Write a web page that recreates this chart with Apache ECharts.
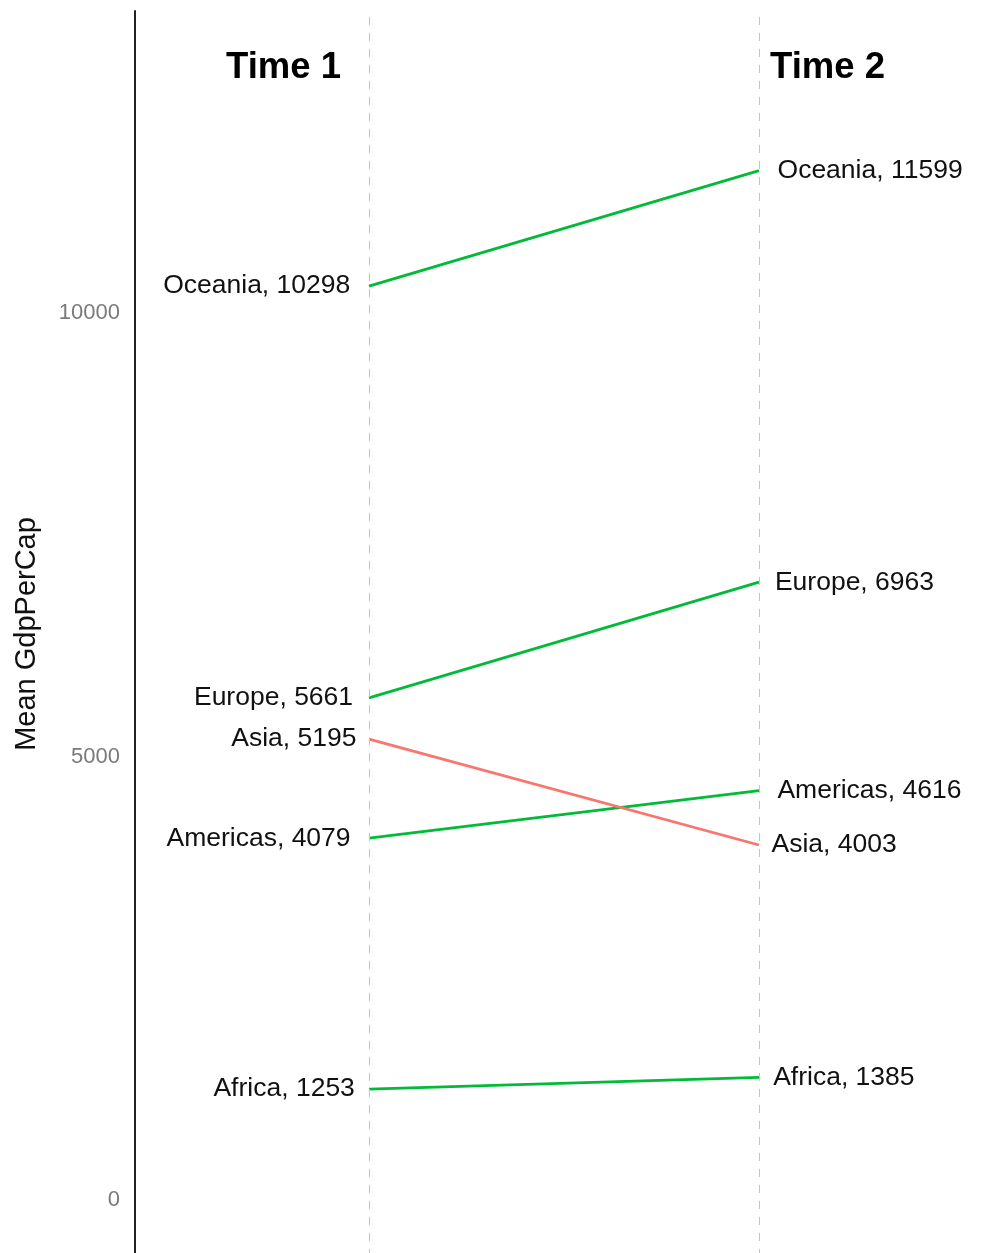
<!DOCTYPE html>
<html>
<head>
<meta charset="utf-8">
<script src="https://cdn.jsdelivr.net/npm/echarts@6/dist/echarts.min.js"></script>
<style>
html,body{margin:0;padding:0;background:#fff;}
#chart{width:984px;height:1253px;}
</style>
</head>
<body>
<div id="chart"></div>
<script>
const continents = ['Africa', 'Americas', 'Asia', 'Europe', 'Oceania'];
const time1Values = [1253, 4079, 5195, 5661, 10298];
const time2Values = [1385, 4616, 4003, 6963, 11599];
const timeLabels = ['Time 1', 'Time 2'];
const timeLabelValue = 12759;
const yTickValues = [0, 5000, 10000];
const yAxisTitle = 'Mean GdpPerCap';

const FONT = '"Liberation Sans", Arial, Helvetica, sans-serif';
const LABEL_SIZE = 26.5;
const ctx = document.createElement('canvas').getContext('2d');
ctx.font = LABEL_SIZE + 'px ' + FONT;
function w(t){ return ctx.measureText(t).width; }

const UP = '#00BA38', DOWN = '#F8766D';
const labelBase = { show: true, fontFamily: FONT, fontSize: LABEL_SIZE, color: '#111' };

const series = continents.map((c, i) => {
  const a = time1Values[i], b = time2Values[i];
  const la = c + ', ' + a, lb = c + ', ' + b;
  const col = b >= a ? UP : DOWN;
  return {
    type: 'line',
    name: c,
    symbol: 'circle',
    symbolSize: 0,
    showSymbol: true,
    silent: true,
    lineStyle: { color: col, width: 2.8 },
    itemStyle: { color: col },
    data: [
      { value: [1, a], label: Object.assign({}, labelBase, { position: 'left', distance: 0.1 * w(la), formatter: la }) },
      { value: [2, b], label: Object.assign({}, labelBase, { position: 'right', distance: 0.1 * w(lb), formatter: lb }) }
    ],
    z: 3
  };
});

const timeLabelBase = { show: true, fontFamily: FONT, fontSize: 36.5, fontWeight: 'bold', color: '#000' };
series.push({
  type: 'scatter',
  symbolSize: 0,
  silent: true,
  itemStyle: { opacity: 1 },
  data: [
    { value: [1, timeLabelValue], label: Object.assign({}, timeLabelBase, { position: 'left', distance: 28, formatter: timeLabels[0] }) },
    { value: [2, timeLabelValue], label: Object.assign({}, timeLabelBase, { position: 'right', distance: 11, formatter: timeLabels[1] }) }
  ],
  markLine: {
    silent: true,
    symbol: 'none',
    label: { show: false },
    lineStyle: { color: '#c4c4c4', type: [8, 8], width: 1, opacity: 1 },
    data: [{ xAxis: 1 }, { xAxis: 2 }]
  }
});

const chart = echarts.init(document.getElementById('chart'), null, { renderer: 'canvas' });
chart.setOption({
  animation: false,
  backgroundColor: '#fff',
  grid: { left: 135, top: 11, width: 849, height: 1246, containLabel: false, outerBoundsMode: 'none' },
  xAxis: {
    type: 'value', min: 0.4, max: 0.4 + 849 / 390,
    show: false, splitLine: { show: false }
  },
  yAxis: {
    type: 'value', min: -638, max: 13397,
    name: yAxisTitle, nameLocation: 'middle', nameGap: 94, nameRotate: 90,
    nameTextStyle: { fontFamily: FONT, fontSize: 29, color: '#111' },
    axisLine: { show: true, lineStyle: { color: '#222', width: 2 } },
    axisTick: { show: false },
    splitLine: { show: false },
    axisLabel: {
      customValues: yTickValues,
      formatter: v => String(v),
      fontFamily: FONT, fontSize: 22, color: '#7a7a7a', margin: 15
    }
  },
  series: series
});
</script>
</body>
</html>
